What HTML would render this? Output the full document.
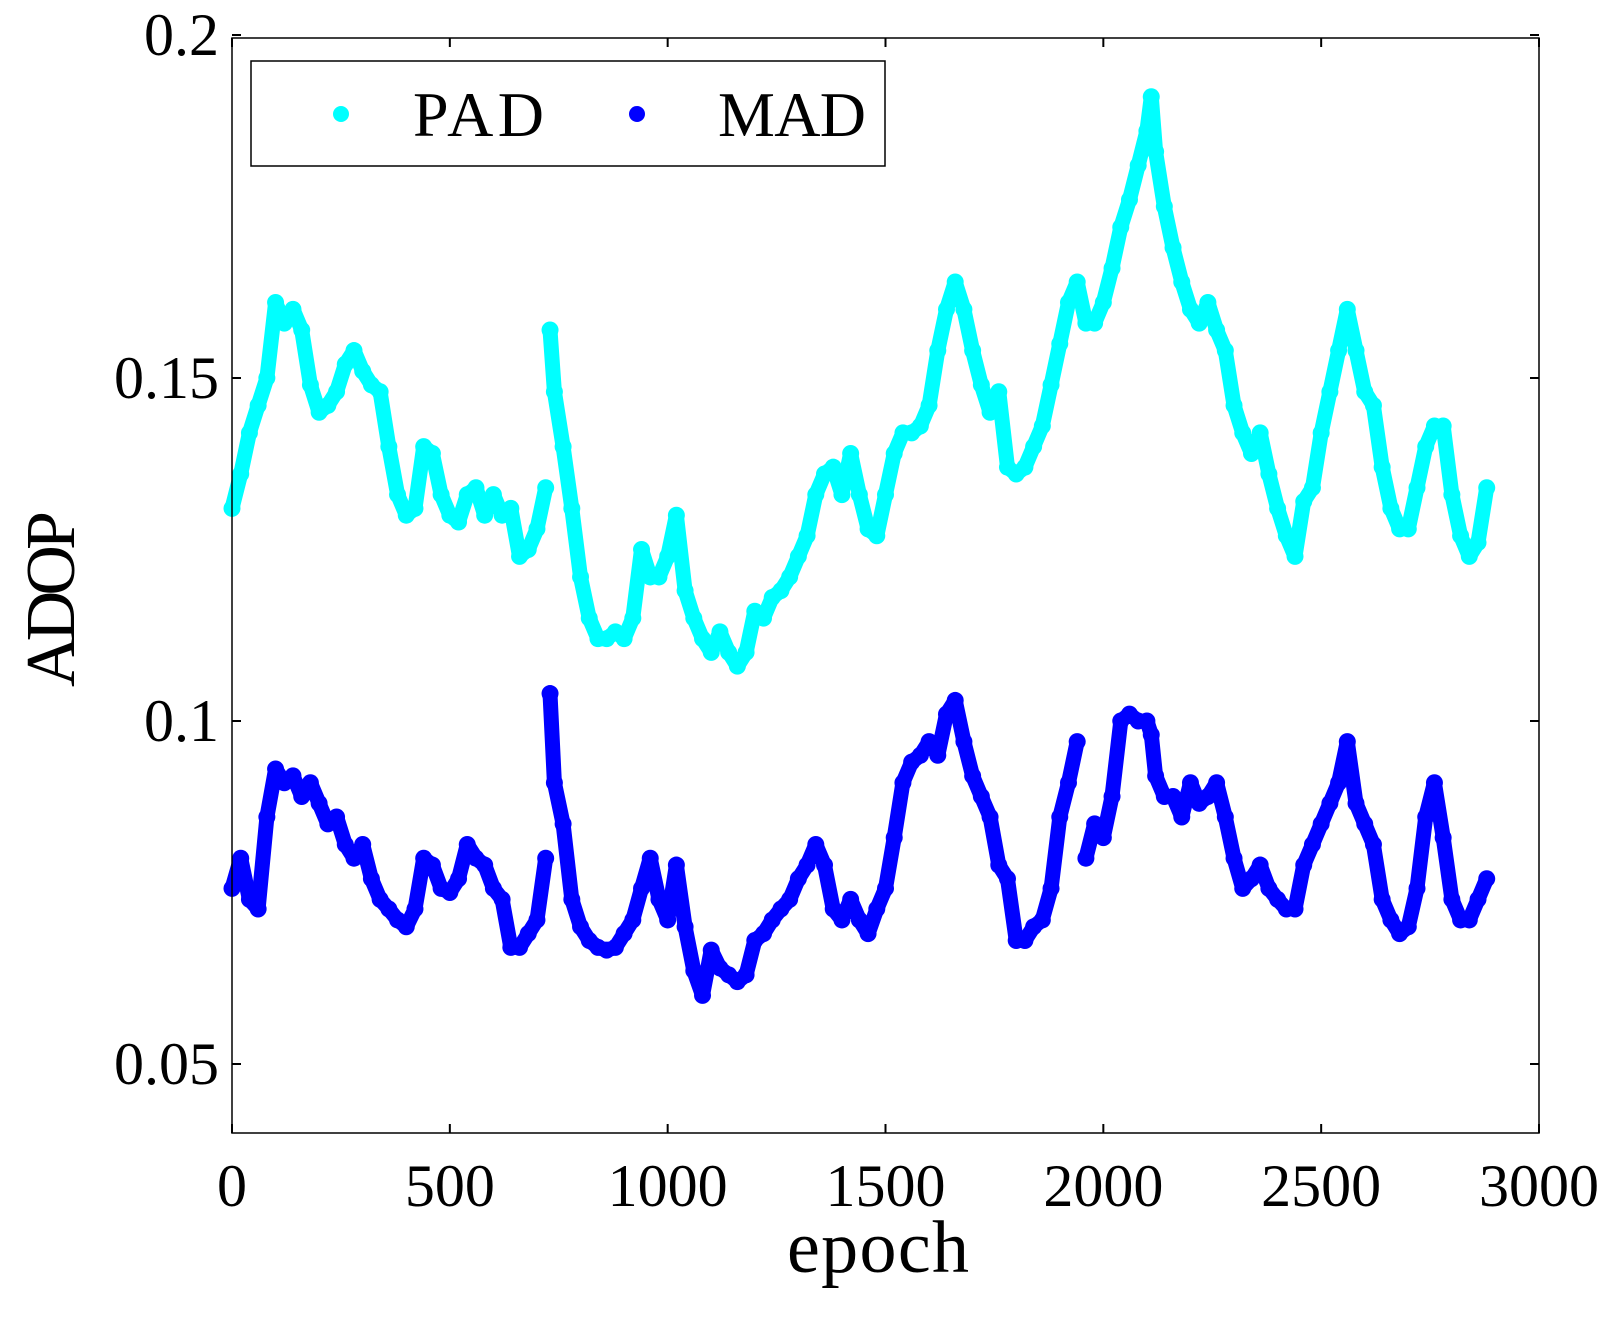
<!DOCTYPE html>
<html><head><meta charset="utf-8"><style>
html,body{margin:0;padding:0;background:#fff}
svg text{font-family:"Liberation Serif",serif;fill:#000}
</style></head><body>
<svg id="chart" width="1621" height="1315" viewBox="0 0 1621 1315" xmlns="http://www.w3.org/2000/svg">
<g id="marks"></g>
<rect x="232" y="38" width="1307" height="1095" fill="none" stroke="#000" stroke-width="1.5"/>
<g id="axes"></g>
<text x="878" y="1272" font-size="74" text-anchor="middle" textLength="182">epoch</text>
<text transform="translate(74,599) rotate(-90)" font-size="70" text-anchor="middle" textLength="176">ADOP</text>
<g>
<rect x="251" y="61" width="634" height="105" fill="#fff" stroke="#000" stroke-width="1.5"/>
<circle cx="341" cy="114" r="8" fill="#00ffff"/>
<text x="413" y="136" font-size="64" textLength="131">PAD</text>
<circle cx="637" cy="114" r="8" fill="#0000ff"/>
<text x="718" y="136" font-size="64" textLength="148">MAD</text>
</g>
</svg>
<script>
const epochs=[0,20,40,60,80,100,120,140,160,180,200,220,240,260,280,300,320,340,360,380,400,420,440,460,480,500,520,540,560,580,600,620,640,660,680,700,720,730,740,760,780,800,820,840,860,880,900,920,940,960,980,1000,1020,1040,1060,1080,1100,1120,1140,1160,1180,1200,1220,1240,1260,1280,1300,1320,1340,1360,1380,1400,1420,1440,1460,1480,1500,1520,1540,1560,1580,1600,1620,1640,1660,1680,1700,1720,1740,1760,1780,1800,1820,1840,1860,1880,1900,1920,1940,1960,1980,2000,2020,2040,2060,2080,2100,2110,2120,2140,2160,2180,2200,2220,2240,2260,2280,2300,2320,2340,2360,2380,2400,2420,2440,2460,2480,2500,2520,2540,2560,2580,2600,2620,2640,2660,2680,2700,2720,2740,2760,2780,2800,2820,2840,2860,2880];
const padValues=[.131,.136,.142,.146,.150,.161,.158,.160,.157,.149,.145,.146,.148,.152,.154,.151,.149,.148,.140,.133,.130,.131,.140,.139,.133,.130,.129,.133,.134,.130,.133,.130,.131,.124,.125,.128,.134,.157,.148,.140,.131,.121,.115,.112,.112,.113,.112,.115,.125,.121,.121,.124,.130,.119,.115,.112,.110,.113,.110,.108,.110,.116,.115,.118,.119,.121,.124,.127,.133,.136,.137,.133,.139,.133,.128,.127,.133,.139,.142,.142,.143,.146,.154,.160,.164,.160,.154,.149,.145,.148,.137,.136,.137,.140,.143,.149,.155,.161,.164,.158,.158,.161,.166,.172,.176,.181,.186,.191,.183,.175,.169,.164,.160,.158,.161,.157,.154,.146,.142,.139,.142,.136,.131,.127,.124,.132,.134,.142,.148,.154,.160,.154,.148,.146,.137,.131,.128,.128,.134,.140,.143,.143,.133,.127,.124,.126,.134];
const madValues=[.0756,.080,.074,.0726,.086,.093,.091,.092,.089,.091,.088,.085,.086,.082,.080,.082,.077,.074,.0726,.071,.070,.0726,.080,.079,.0756,.075,.077,.082,.080,.079,.0756,.074,.067,.067,.069,.071,.080,.104,.091,.085,.074,.070,.068,.067,.0666,.067,.069,.071,.0756,.080,.074,.071,.079,.070,.0636,.060,.0666,.064,.063,.062,.063,.068,.069,.071,.0726,.074,.077,.079,.082,.079,.0726,.071,.074,.071,.069,.0726,.0756,.083,.091,.094,.095,.097,.095,.101,.103,.097,.092,.089,.086,.079,.077,.068,.068,.070,.071,.0756,.086,.091,.097,.080,.085,.083,.089,.100,.101,.100,.100,.098,.092,.089,.089,.086,.091,.088,.089,.091,.086,.080,.0756,.077,.079,.0756,.074,.0726,.0726,.079,.082,.085,.088,.091,.097,.088,.085,.082,.074,.071,.069,.070,.0756,.086,.091,.083,.074,.071,.071,.074,.077];
const xTicks=[0,500,1000,1500,2000,2500,3000];
const yTicks=[0.05,0.1,0.15,0.2];
const yTickLabels=["0.05","0.1","0.15","0.2"];

const NS="http://www.w3.org/2000/svg";
function xs(e){return 232+e*(1307/3000);}
function ys(v){return 1064-(v-0.05)/0.05*343;}
const marks=document.getElementById('marks');
const axes=document.getElementById('axes');
function series(vals,color,name){
  let d='';
  epochs.forEach((e,i)=>{
    const v=vals[i];
    if(v===undefined) return;
    const prev=vals[i-1];
    const jump=(i===0)||prev===undefined||Math.abs(ys(v)-ys(prev))>110;
    d+=(jump?'M':'L')+xs(e).toFixed(1)+' '+ys(v).toFixed(1)+' ';
  });
  const p=document.createElementNS(NS,'path');
  p.setAttribute('d',d);p.setAttribute('fill','none');p.setAttribute('stroke',color);
  p.setAttribute('stroke-width','15');p.setAttribute('stroke-linecap','round');p.setAttribute('stroke-linejoin','round');
  
  
  marks.appendChild(p);
  epochs.forEach((e,i)=>{
    const v=vals[i];
    if(v===undefined) return;
    const c=document.createElementNS(NS,'circle');
    c.setAttribute('cx',xs(e));c.setAttribute('cy',ys(v));c.setAttribute('r',8.5);c.setAttribute('fill',color);
    
    
    marks.appendChild(c);
  });
}
series(padValues,'#00ffff','pad');
series(madValues,'#0000ff','mad');
function line(x1,y1,x2,y2){
  const l=document.createElementNS(NS,'line');
  l.setAttribute('x1',x1);l.setAttribute('y1',y1);l.setAttribute('x2',x2);l.setAttribute('y2',y2);
  l.setAttribute('stroke','#000');l.setAttribute('stroke-width','2');
  
  
  axes.appendChild(l);
}
function txt(x,y,s,anchor,name){
  const t=document.createElementNS(NS,'text');
  t.setAttribute('x',x);t.setAttribute('y',y);t.setAttribute('font-size','60');t.setAttribute('text-anchor',anchor);
  t.textContent=s;
  
  
  axes.appendChild(t);
}
xTicks.forEach(t=>{
  const x=xs(t);
  line(x,1133,x,1124);line(x,38,x,47);
  txt(x,1206,String(t),'middle','x-tick-label');
});
yTicks.forEach((t,i)=>{
  const y=ys(t);
  line(232,y,241,y);line(1539,y,1530,y);
  txt(219,y+20,yTickLabels[i],'end','y-tick-label');
});
</script>
</body></html>
